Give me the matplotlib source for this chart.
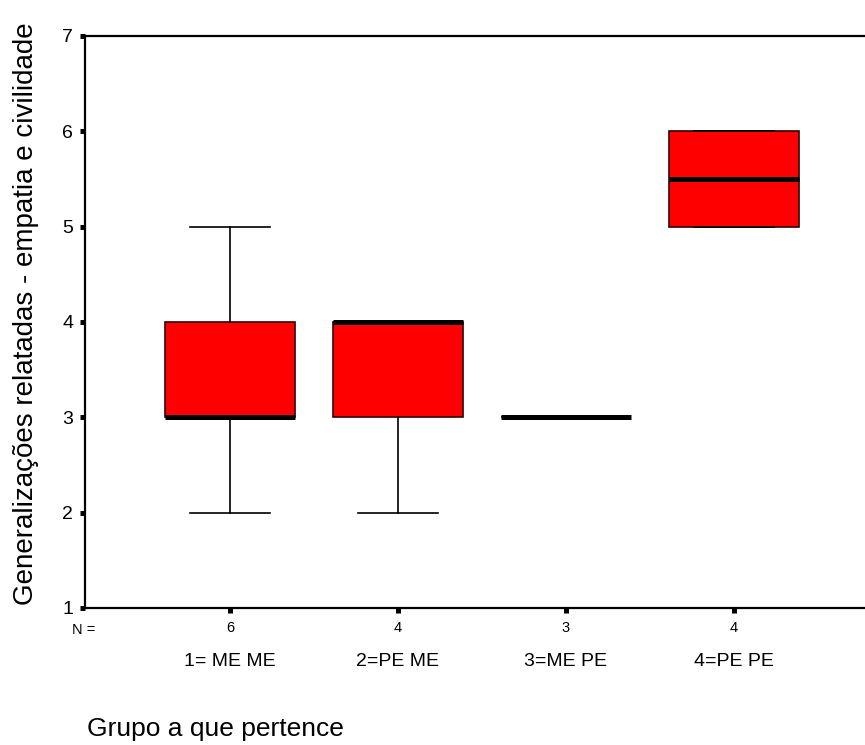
import matplotlib
matplotlib.use("Agg")
import matplotlib.pyplot as plt
from matplotlib import font_manager

# summary values
groups = ["1= ME ME", "2=PE ME", "3=ME PE", "4=PE PE"]
n_counts = [6, 4, 3, 4]
whislo = [2, 2, 3, 5]
q1 = [3, 3, 3, 5]
med = [3, 4, 3, 5.5]
q3 = [4, 4, 3, 6]
whishi = [5, 4, 3, 6]

plt.rcParams['font.family'] = ['Liberation Sans', 'DejaVu Sans']

# narrow font if there is one, else plain Liberation Sans a bit smaller
names = {f.name for f in font_manager.fontManager.ttflist}
if 'Liberation Sans Narrow' in names:
    narrow, cat_size, n_size = ['Liberation Sans Narrow', 'DejaVu Sans'], 16, 12
else:
    narrow, cat_size, n_size = ['Liberation Sans', 'DejaVu Sans'], 14, 10.5

stats = []
for i in range(len(groups)):
    stats.append(dict(label=groups[i], whislo=whislo[i], q1=q1[i], med=med[i],
                      q3=q3[i], whishi=whishi[i], fliers=[]))

fig = plt.figure(figsize=(8.65, 7.45), dpi=100)
ax = fig.add_axes([0.0983, 0.1839, 0.9017, 0.7678])

pos = list(range(1, len(groups) + 1))
ax.bxp(stats, positions=pos, widths=0.774, patch_artist=True, showfliers=False,
       capwidths=0.476,
       boxprops=dict(facecolor='#ff0000', edgecolor='#300000', linewidth=1.2),
       medianprops=dict(color='black', linewidth=3.6, solid_capstyle='butt'),
       whiskerprops=dict(color='black', linewidth=1.2),
       capprops=dict(color='black', linewidth=1.2))

ax.set_xlim(0.137, 4.78)
ax.set_ylim(1, 7)
ax.set_yticks([1, 2, 3, 4, 5, 6, 7])
ax.set_xticks(pos)
ax.set_xticklabels([str(n) for n in n_counts], fontsize=n_size, family=narrow)
ax.tick_params(axis='y', labelsize=14, length=3.6, width=3.6, direction='out', pad=5)
ax.tick_params(axis='x', length=3.6, width=3.6, direction='out', pad=6)

for s in ['left', 'top', 'bottom']:
    ax.spines[s].set_linewidth(1.6)
ax.spines['right'].set_visible(False)

ax.text(84 / 865, 1 - 630 / 745, "N =", transform=fig.transFigure, fontsize=n_size,
        family=narrow, ha='center', va='center')
for i, g in enumerate(groups):
    ax.text(pos[i], -0.093, g, transform=ax.get_xaxis_transform(), fontsize=cat_size,
            family=narrow, ha='center', va='center')

ax.set_ylabel("Generalizações relatadas - empatia e civilidade", fontsize=20)
ax.yaxis.set_label_coords(-0.059, 0.515)
fig.text(87 / 865, 1 - 736 / 745, "Grupo a que pertence", fontsize=19,
         ha='left', va='baseline')

fig.savefig("out.png", dpi=100)
